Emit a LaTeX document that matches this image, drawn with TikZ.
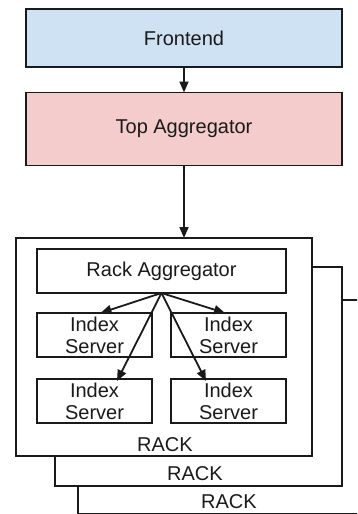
\documentclass[tikz,border=0pt]{standalone}
\usepackage{fontspec}
\setmainfont{Liberation Sans}
\usetikzlibrary{arrows.meta}
\definecolor{feblue}{HTML}{CFE2F3}
\definecolor{tapink}{HTML}{F4CCCC}
\definecolor{txt}{HTML}{1A1A1A}
\begin{document}
\begin{tikzpicture}[x=1pt,y=-1pt,
  box/.style={draw=txt,line width=1.8pt,inner sep=0pt,outer sep=0pt,text=txt,font=\fontsize{20}{22}\selectfont,align=center},
  rackbox/.style={draw=txt,line width=1.8pt,fill=white},
  racklbl/.style={text=txt,font=\fontsize{20}{22}\selectfont,inner sep=0pt},
  arr/.style={draw=txt,line width=1.8pt,-{Triangle[length=11pt,width=9pt]}}
]
\useasboundingbox (0,0) rectangle (357,514);
\clip (0,0) rectangle (357,514);
% racks (back to front)
\draw[rackbox] (78,300) rectangle (380,513.5);
\node[racklbl] (l3) at (229,502) {RACK};
\draw[rackbox] (55,267) rectangle (342,486);
\node[racklbl] (l2) at (195,474) {RACK};
\node[rackbox,minimum width=296pt,minimum height=218pt,inner sep=0pt,outer sep=0pt] (r1) at (164,347) {};
\node[racklbl] (l1) at (165,445) {RACK};
% top boxes
\node[box,fill=feblue,minimum width=316pt,minimum height=58pt] (fe) at (184,38) {Frontend};
\node[box,fill=tapink,minimum width=316pt,minimum height=73pt] (ta) at (184,129) {Top Aggregator};
\draw[arr] (fe.south) -- (ta.north);
\draw[arr] (ta.south) -- (ta.south |- r1.north);
% rack content
\node[box,minimum width=249pt,minimum height=44pt] (ra) at (161.5,271) {Rack Aggregator};
\node[box,minimum width=115pt,minimum height=44pt] (is1) at (94.5,335) {Index\\Server};
\node[box,minimum width=115pt,minimum height=44pt] (is2) at (228.5,335) {Index\\Server};
\node[box,minimum width=115pt,minimum height=44pt] (is3) at (94.5,401) {Index\\Server};
\node[box,minimum width=115pt,minimum height=44pt] (is4) at (228.5,401) {Index\\Server};
\draw[arr] (ra.south) -- ([xshift=6pt]is1.north);
\draw[arr] (ra.south) -- ([xshift=-3.5pt]is2.north);
\draw[arr] (ra.south) -- ([xshift=22.5pt,yshift=-2pt]is3.north);
\draw[arr] (ra.south) -- ([xshift=-22.5pt,yshift=-2pt]is4.north);
\end{tikzpicture}
\end{document}
